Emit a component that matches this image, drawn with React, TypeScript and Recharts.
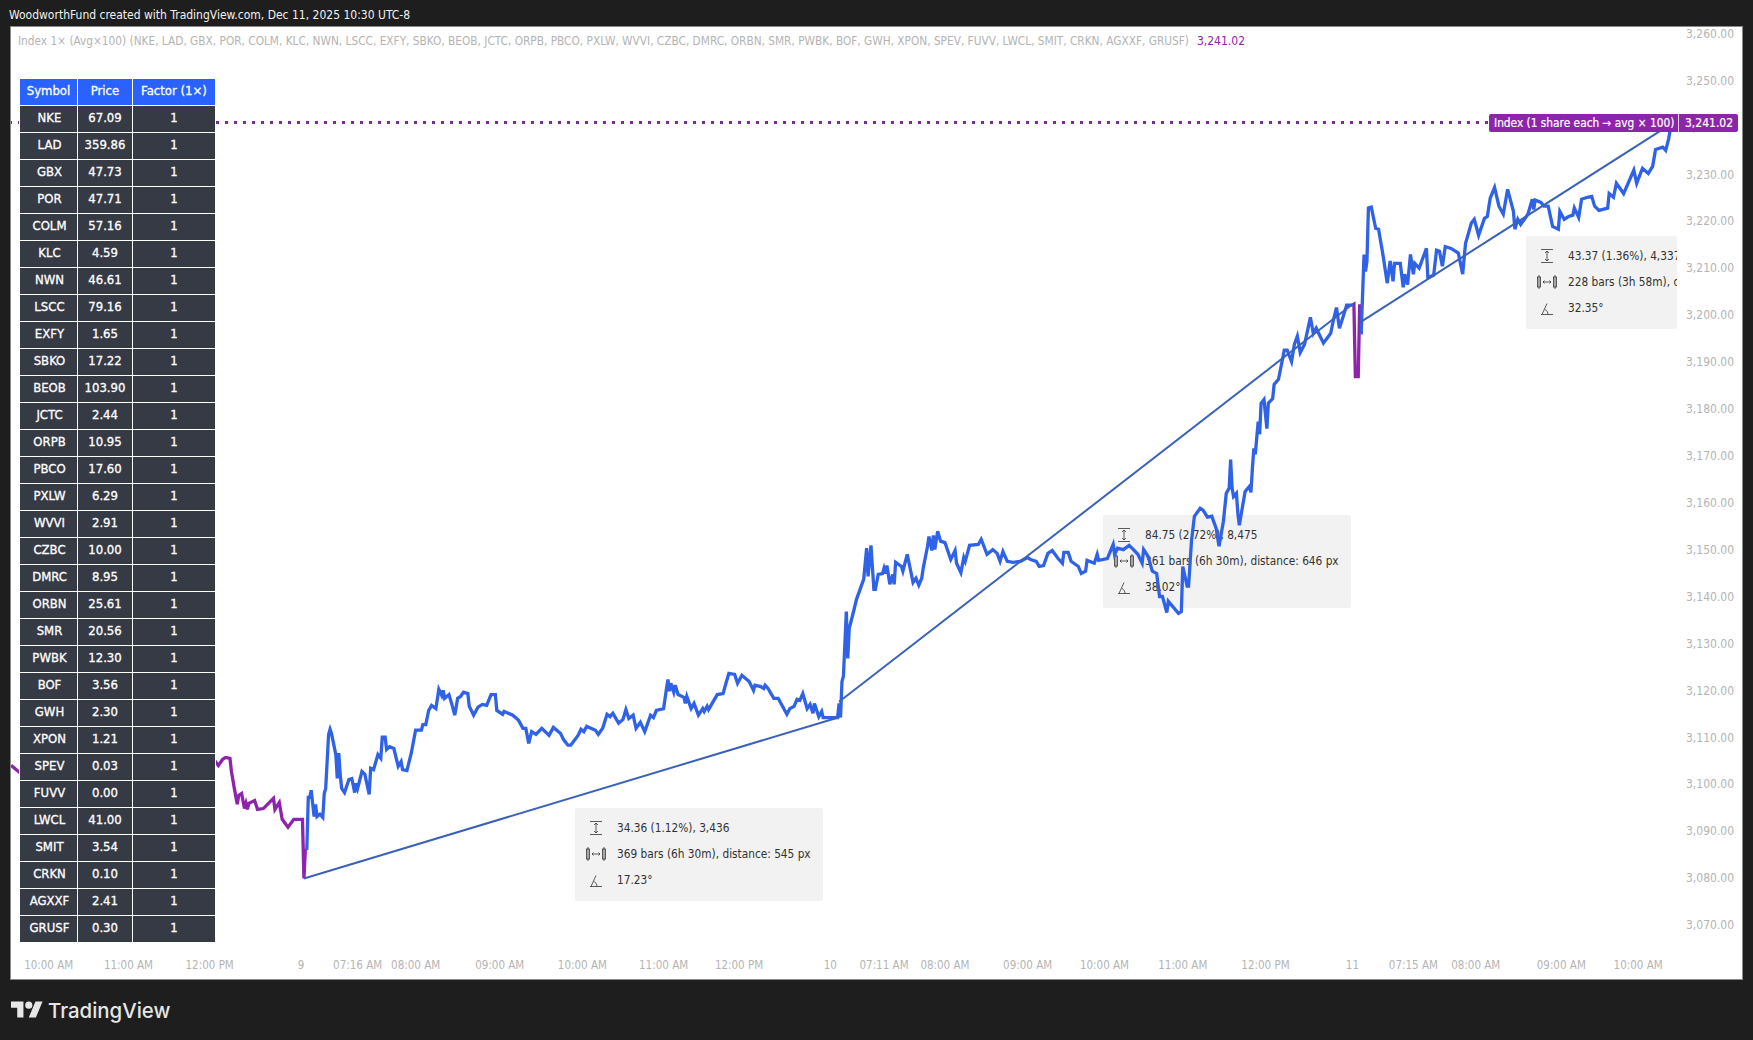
import React from 'react';
import { LineChart, Line, XAxis, YAxis, ReferenceLine } from 'recharts';

const FONT = '"DejaVu Sans Condensed", "DejaVu Sans", sans-serif';

// table
const symbols = ['NKE', 'LAD', 'GBX', 'POR', 'COLM', 'KLC', 'NWN', 'LSCC', 'EXFY', 'SBKO', 'BEOB', 'JCTC', 'ORPB', 'PBCO', 'PXLW', 'WVVI', 'CZBC', 'DMRC', 'ORBN', 'SMR', 'PWBK', 'BOF', 'GWH', 'XPON', 'SPEV', 'FUVV', 'LWCL', 'SMIT', 'CRKN', 'AGXXF', 'GRUSF'];
const prices = ['67.09', '359.86', '47.73', '47.71', '57.16', '4.59', '46.61', '79.16', '1.65', '17.22', '103.90', '2.44', '10.95', '17.60', '6.29', '2.91', '10.00', '8.95', '25.61', '20.56', '12.30', '3.56', '2.30', '1.21', '0.03', '0.00', '41.00', '3.54', '0.10', '2.41', '0.30'];

// axes
const priceTicks = [3070, 3080, 3090, 3100, 3110, 3120, 3130, 3140, 3150, 3160, 3170, 3180, 3190, 3200, 3210, 3220, 3230, 3240, 3250, 3260];
const timeTickBars = [26, 81, 137, 200, 239, 279, 337, 394, 450, 502, 565, 602, 644, 701, 754, 808, 865, 925, 967, 1010, 1069, 1122];
const timeTickLabels = ['10:00 AM', '11:00 AM', '12:00 PM', '9', '07:16 AM', '08:00 AM', '09:00 AM', '10:00 AM', '11:00 AM', '12:00 PM', '10', '07:11 AM', '08:00 AM', '09:00 AM', '10:00 AM', '11:00 AM', '12:00 PM', '11', '07:15 AM', '08:00 AM', '09:00 AM', '10:00 AM'];
const lastClose = 3241.02;

// extended hours (purple)
const extBarsA = [0, 6, 34, 75, 110, 137, 141, 143, 146, 148, 151, 152, 154, 156, 157, 159, 161, 162, 163, 164, 168, 170, 174, 181, 182, 185, 187, 191, 195, 201, 202, 203];
const extClosesA = [3104.0, 3102.5, 3103.8, 3104.9, 3103.1, 3104.4, 3104.8, 3104.0, 3105.3, 3105.7, 3105.5, 3102.7, 3099.1, 3095.7, 3097.6, 3098.0, 3094.8, 3095.9, 3094.6, 3095.9, 3096.5, 3094.6, 3094.8, 3097.0, 3094.6, 3096.1, 3092.5, 3090.8, 3092.5, 3092.5, 3079.9, 3086.3];
const extBarsB = [925, 926, 927, 929, 930, 931];
const extClosesB = [3202.1, 3202.3, 3186.9, 3186.9, 3202.3, 3195.9];

// regular hours (blue)
const regBarsA = [203, 204, 205, 206, 207, 209, 210, 211, 213, 215, 216, 217, 219, 220, 221, 224, 225, 226, 227, 228, 230, 233, 235, 237, 238, 239, 242, 244, 247, 248, 250, 253, 255, 256, 258, 259, 261, 264, 267, 269, 270, 273, 276, 279, 283, 284, 286, 288, 290, 293, 295, 297, 298, 299, 302, 304, 306, 308, 310, 312, 315, 316, 319, 322, 325, 328, 331, 334, 335, 339, 340, 346, 350, 353, 355, 357, 359, 362, 366, 371, 374, 379, 381, 384, 386, 391, 393, 395, 397, 403, 405, 408, 411, 413, 415, 419, 422, 424, 426, 429, 431, 434, 437, 441, 443, 445, 450, 452, 453, 454, 455, 457, 458, 460, 464, 465, 466, 469, 471, 474, 477, 478, 480, 481, 487, 491, 493, 495, 499, 501, 504, 509, 512, 513, 517, 519, 520, 522, 526, 529, 535, 537, 540, 542, 544, 546, 549, 551, 553, 554, 557, 559, 560, 570, 571, 572, 573, 574, 576, 577, 578, 581, 583, 585, 588, 590, 591, 593, 595, 596, 598, 601, 602, 603, 604, 606, 608, 609, 610, 614, 615, 618, 622, 624, 626, 628, 629, 632, 633, 635, 636, 637, 639, 641, 644, 648, 651, 652, 655, 657, 658, 661, 667, 669, 673, 677, 680, 682, 684, 687, 691, 696, 701, 703, 707, 709, 712, 715, 718, 722, 725, 726, 729, 731, 736, 738, 741, 742, 747, 749, 750, 756, 760, 761, 763, 767, 771, 774, 777, 780, 781, 784, 787, 790, 792, 794, 797, 798, 805, 807, 808, 811, 812, 814, 816, 820, 822, 825, 828, 831, 833, 836, 838, 840, 841, 842, 843, 845, 846, 847, 849, 851, 854, 855, 856, 857, 858, 860, 861, 862, 864, 866, 867, 870, 871, 874, 878, 880, 883, 885, 887, 889, 892, 896, 898, 900, 905, 910, 912, 914, 916, 918, 921, 925];
const regClosesA = [3086.3, 3086.3, 3097.2, 3097.2, 3098.7, 3093.1, 3095.7, 3093.1, 3093.6, 3092.9, 3098.0, 3099.1, 3110.6, 3111.7, 3110.8, 3106.3, 3101.2, 3106.6, 3102.1, 3099.1, 3098.2, 3101.0, 3101.2, 3098.2, 3100.2, 3099.1, 3102.7, 3102.1, 3097.8, 3103.4, 3103.1, 3106.3, 3105.5, 3110.0, 3110.0, 3107.4, 3108.0, 3107.6, 3103.8, 3104.8, 3103.1, 3102.9, 3106.6, 3111.5, 3111.5, 3112.7, 3112.7, 3115.7, 3116.8, 3116.1, 3120.2, 3118.9, 3120.0, 3118.3, 3119.1, 3117.0, 3114.7, 3118.3, 3118.7, 3119.6, 3119.3, 3116.6, 3114.7, 3116.4, 3117.0, 3116.8, 3119.1, 3119.1, 3115.7, 3114.9, 3115.5, 3114.7, 3113.6, 3111.9, 3111.9, 3108.7, 3111.2, 3110.6, 3111.9, 3110.4, 3112.1, 3110.8, 3109.5, 3108.3, 3108.3, 3110.4, 3111.7, 3111.2, 3112.3, 3111.5, 3110.6, 3111.9, 3114.9, 3114.4, 3115.1, 3113.0, 3113.8, 3115.9, 3114.0, 3114.7, 3111.9, 3113.2, 3111.2, 3114.7, 3114.2, 3115.7, 3116.1, 3120.4, 3122.3, 3119.8, 3121.5, 3119.6, 3121.1, 3119.1, 3118.5, 3117.2, 3118.7, 3116.1, 3117.2, 3114.7, 3116.1, 3115.5, 3116.6, 3115.9, 3119.1, 3119.3, 3121.5, 3123.6, 3123.4, 3121.5, 3123.2, 3121.9, 3120.0, 3121.1, 3120.8, 3120.4, 3121.1, 3120.4, 3118.3, 3118.3, 3114.9, 3116.1, 3116.6, 3118.1, 3117.9, 3119.3, 3116.1, 3117.0, 3115.1, 3117.2, 3114.4, 3115.5, 3114.2, 3114.2, 3117.2, 3114.2, 3121.9, 3123.0, 3136.8, 3126.8, 3133.2, 3136.8, 3139.4, 3141.1, 3143.7, 3150.3, 3144.3, 3150.9, 3141.5, 3141.5, 3144.7, 3144.9, 3146.0, 3144.9, 3146.6, 3142.6, 3144.7, 3142.6, 3147.3, 3146.4, 3145.4, 3149.0, 3143.0, 3143.9, 3142.4, 3143.9, 3146.0, 3150.7, 3152.8, 3149.8, 3153.0, 3150.0, 3153.9, 3151.8, 3151.5, 3147.9, 3149.8, 3147.1, 3145.1, 3148.3, 3147.5, 3150.9, 3151.1, 3152.2, 3149.0, 3150.0, 3149.2, 3147.5, 3149.6, 3147.5, 3147.3, 3147.5, 3148.3, 3147.9, 3147.5, 3146.4, 3146.6, 3149.2, 3149.8, 3148.1, 3147.1, 3149.4, 3149.4, 3147.5, 3146.4, 3144.9, 3145.4, 3147.7, 3147.1, 3149.0, 3147.7, 3148.1, 3151.1, 3149.0, 3150.3, 3150.0, 3150.9, 3150.0, 3149.0, 3147.1, 3150.0, 3148.6, 3145.4, 3144.9, 3140.0, 3140.0, 3136.6, 3139.0, 3136.4, 3136.8, 3146.4, 3142.2, 3142.2, 3151.8, 3157.1, 3158.8, 3158.4, 3156.9, 3157.1, 3154.5, 3150.7, 3156.0, 3162.0, 3163.1, 3169.2, 3163.1, 3161.3, 3162.0, 3157.7, 3155.2, 3158.8, 3162.4, 3163.5, 3162.2, 3167.3, 3171.6, 3170.3, 3177.3, 3174.6, 3181.2, 3182.0, 3175.8, 3181.2, 3182.2, 3185.2, 3186.3, 3192.5, 3192.5, 3190.1, 3193.8, 3195.5, 3192.0, 3193.8, 3199.5, 3196.1, 3197.2, 3194.0, 3196.1, 3199.1, 3201.6, 3197.2, 3199.1, 3202.1, 3202.1];
const regBarsB = [931, 933, 934, 935, 936, 938, 941, 943, 946, 949, 951, 953, 954, 958, 960, 961, 963, 965, 967, 968, 971, 976, 977, 981, 983, 985, 987, 989, 993, 998, 1001, 1002, 1003, 1007, 1009, 1012, 1016, 1018, 1020, 1023, 1026, 1029, 1032, 1036, 1037, 1039, 1041, 1046, 1049, 1050, 1051, 1055, 1057, 1060, 1063, 1067, 1068, 1071, 1074, 1077, 1078, 1081, 1083, 1087, 1090, 1092, 1095, 1101, 1102, 1105, 1107, 1112, 1119, 1121, 1125, 1129, 1132, 1134, 1139, 1141, 1143, 1145];
const regClosesB = [3195.9, 3212.9, 3209.3, 3211.5, 3222.8, 3223.0, 3218.5, 3218.3, 3212.9, 3206.8, 3211.5, 3207.2, 3211.0, 3211.0, 3205.9, 3208.7, 3206.5, 3212.9, 3208.7, 3211.0, 3210.0, 3214.2, 3208.0, 3208.5, 3213.8, 3213.6, 3210.4, 3214.6, 3214.2, 3213.2, 3208.7, 3212.1, 3215.3, 3219.6, 3220.4, 3217.0, 3220.6, 3221.0, 3224.9, 3227.2, 3223.2, 3221.5, 3226.8, 3222.1, 3218.3, 3220.4, 3219.3, 3221.5, 3224.7, 3222.5, 3224.5, 3224.0, 3223.2, 3223.2, 3218.9, 3218.3, 3222.1, 3220.4, 3221.0, 3221.3, 3222.8, 3220.8, 3224.7, 3225.1, 3225.3, 3223.2, 3222.3, 3222.8, 3225.9, 3225.1, 3228.1, 3225.9, 3230.9, 3228.1, 3231.3, 3230.2, 3231.7, 3235.3, 3235.8, 3235.1, 3237.5, 3241.02];

// drawn trend lines
const trendBarsA = [202, 571];
const trendValuesA = [3079.9, 3114.26];
const trendBarsB = [571, 925];
const trendValuesB = [3117.55, 3202.3];
const trendBarsC = [930, 1150];
const trendValuesC = [3198.4, 3241.77];

const toRows = (bars: number[], closes: number[]) => bars.map((bar, i) => ({ bar, close: closes[i] }));

const measures = [
  { left: 575, top: 808, width: 248, height: 93, lines: ['34.36 (1.12%), 3,436', '369 bars (6h 30m), distance: 545 px', '17.23°'] },
  { left: 1103, top: 515, width: 248, height: 93, lines: ['84.75 (2.72%), 8,475', '361 bars (6h 30m), distance: 646 px', '38.02°'] },
  { left: 1526, top: 236, width: 151, height: 93, lines: ['43.37 (1.36%), 4,337', '228 bars (3h 58m), distance: 389 px', '32.35°'] },
];

const MeasureIcon = ({ kind }: { kind: number }) => (
  <svg width={22} height={20} viewBox="0 0 22 20" style={{ position: 'absolute', left: 10, top: -2 }} fill="none" stroke="#333" strokeWidth={0.8}>
    {kind === 0 && (
      <g>
        <path d="M5 3.5h12M5 16.5h12M11 5v10M9 7l2-2 2 2M9 13l2 2 2-2" />
      </g>
    )}
    {kind === 1 && (
      <g>
        <rect x="1.5" y="5" width="3" height="10" />
        <rect x="17.5" y="5" width="3" height="10" />
        <path d="M3 3v14M19 3v14M7 10h8M8.5 8.5L7 10l1.5 1.5M13.5 8.5L15 10l-1.5 1.5" />
      </g>
    )}
    {kind === 2 && <path d="M5 16.5h12M6 16.5l5-11M9 11.5c2 1 3 3 3 5" />}
  </svg>
);

const cell: React.CSSProperties = { border: '1px solid #fff', padding: '0 0 2px 0', textAlign: 'center', height: 24, lineHeight: '24px' };

const App: React.FC = () => {
  const legend = 'Index 1× (Avg×100) (' + symbols.join(', ') + ')';
  return (
    <div style={{ position: 'absolute', left: 0, top: 0, width: 1753, height: 1040, background: '#1e1e1e', overflow: 'hidden', fontFamily: FONT }}>
      <div style={{ position: 'absolute', left: 9, top: 7, color: '#f0f0f0', fontSize: 12, lineHeight: '16px', whiteSpace: 'nowrap' }}>
        WoodworthFund created with TradingView.com, Dec 11, 2025 10:30 UTC-8
      </div>

      <div style={{ position: 'absolute', left: 11, top: 27, width: 1731, height: 952, background: '#fff', boxShadow: '0 0 0 1px #8a8a8a' }}>
        {measures.map((m, i) => (
          <div key={i} style={{ position: 'absolute', left: m.left - 11, top: m.top - 27, width: m.width, height: m.height, background: '#f2f2f2', overflow: 'hidden', borderRadius: 2, color: '#333', fontSize: 11.75, whiteSpace: 'nowrap' }}>
            {m.lines.map((line, j) => (
              <div key={j} style={{ position: 'absolute', left: 0, top: 12 + j * 26, height: 16, lineHeight: '16px', paddingLeft: 42 }}>
                <MeasureIcon kind={j} />
                {line}
              </div>
            ))}
          </div>
        ))}

        <div style={{ position: 'absolute', left: 0, top: 0 }}>
          <LineChart width={1731} height={952} margin={{ top: 0, right: 0, bottom: 0, left: 0 }}>
            <XAxis
              type="number"
              dataKey="bar"
              domain={[0, 1155]}
              ticks={timeTickBars}
              interval={0}
              height={33}
              axisLine={false}
              tickLine={false}
              tickMargin={9}
              tick={{ fontSize: 11.5, fill: '#b4b4b4', fontFamily: FONT }}
              tickFormatter={(bar: number) => timeTickLabels[timeTickBars.indexOf(bar)]}
            />
            <YAxis
              orientation="right"
              type="number"
              domain={[3065.5, 3261.4]}
              ticks={priceTicks}
              interval={0}
              width={56}
              axisLine={false}
              tickLine={false}
              tickSize={0}
              tickMargin={0}
              tick={{ fontSize: 12, fill: '#b4b4b4', fontFamily: FONT }}
              tickFormatter={(v: number) => v.toLocaleString('en-US', { minimumFractionDigits: 2 })}
            />
            <ReferenceLine y={lastClose} stroke="#7b2d8e" strokeWidth={3} strokeDasharray="3 6" />
            <Line data={toRows(extBarsA, extClosesA)} dataKey="close" stroke="#8e24aa" strokeWidth={3.3} dot={false} type="linear" isAnimationActive={false} />
            <Line data={toRows(extBarsB, extClosesB)} dataKey="close" stroke="#8e24aa" strokeWidth={3.3} dot={false} type="linear" isAnimationActive={false} />
            <Line data={toRows(regBarsA, regClosesA)} dataKey="close" stroke="#2f62e6" strokeWidth={3.3} dot={false} type="linear" isAnimationActive={false} />
            <Line data={toRows(regBarsB, regClosesB)} dataKey="close" stroke="#2f62e6" strokeWidth={3.3} dot={false} type="linear" isAnimationActive={false} />
            <Line data={toRows(trendBarsA, trendValuesA)} dataKey="close" stroke="#3a62b8" strokeWidth={2} dot={false} type="linear" isAnimationActive={false} />
            <Line data={toRows(trendBarsB, trendValuesB)} dataKey="close" stroke="#3a62b8" strokeWidth={2} dot={false} type="linear" isAnimationActive={false} />
            <Line data={toRows(trendBarsC, trendValuesC)} dataKey="close" stroke="#3a62b8" strokeWidth={2} dot={false} type="linear" isAnimationActive={false} />
          </LineChart>
        </div>
      </div>

      <div style={{ position: 'absolute', left: 18, top: 33, fontSize: 11.75, lineHeight: '16px', color: '#b4b4b4', whiteSpace: 'nowrap' }}>
        {legend}
        <span style={{ color: '#8e24aa', marginLeft: 8, fontSize: 12 }}>3,241.02</span>
      </div>

      <table style={{ position: 'absolute', left: 19, top: 78, width: 196, borderCollapse: 'collapse', tableLayout: 'fixed', color: '#fff', fontSize: 13, fontWeight: 500, WebkitTextStroke: '0.3px #fff' }}>
        <colgroup>
          <col style={{ width: 58 }} />
          <col style={{ width: 55 }} />
          <col style={{ width: 83 }} />
        </colgroup>
        <thead>
          <tr style={{ background: '#2962ff' }}>
            <th style={{ ...cell, fontWeight: 500 }}>Symbol</th>
            <th style={{ ...cell, fontWeight: 500 }}>Price</th>
            <th style={{ ...cell, fontWeight: 500 }}>Factor (1×)</th>
          </tr>
        </thead>
        <tbody>
          {symbols.map((s, i) => (
            <tr key={s} style={{ background: '#363a45' }}>
              <td style={{ ...cell, paddingLeft: 2 }}>{s}</td>
              <td style={cell}>{prices[i]}</td>
              <td style={cell}>1</td>
            </tr>
          ))}
        </tbody>
      </table>

      <div style={{ position: 'absolute', left: 1489, top: 114, width: 249, height: 18, background: '#8e24aa', borderRadius: 2, color: '#fff', fontSize: 11.8, lineHeight: '18px', whiteSpace: 'nowrap', WebkitTextStroke: '0.2px #fff' }}>
        <span style={{ position: 'absolute', left: 5 }}>Index (1 share each → avg × 100)</span>
        <span style={{ position: 'absolute', left: 189, top: 0, width: 1, height: 18, background: '#e8d0ee' }} />
        <span style={{ position: 'absolute', left: 196, fontSize: 12 }}>3,241.02</span>
      </div>

      <svg width={32} height={25} viewBox="0 0 36 28" style={{ position: 'absolute', left: 11, top: 998 }} fill="#e6e6e6">
        <path d="M14 22H7V11H0V4h14v18zM28 22h-8l7.5-18h8L28 22z" />
        <circle cx="20" cy="8" r="4" />
      </svg>
      <div style={{ position: 'absolute', left: 48, top: 998, color: '#e6e6e6', fontFamily: 'Inter, sans-serif', fontSize: 20.4, fontWeight: 500, lineHeight: '26px' }}>TradingView</div>
    </div>
  );
};

export default App;
